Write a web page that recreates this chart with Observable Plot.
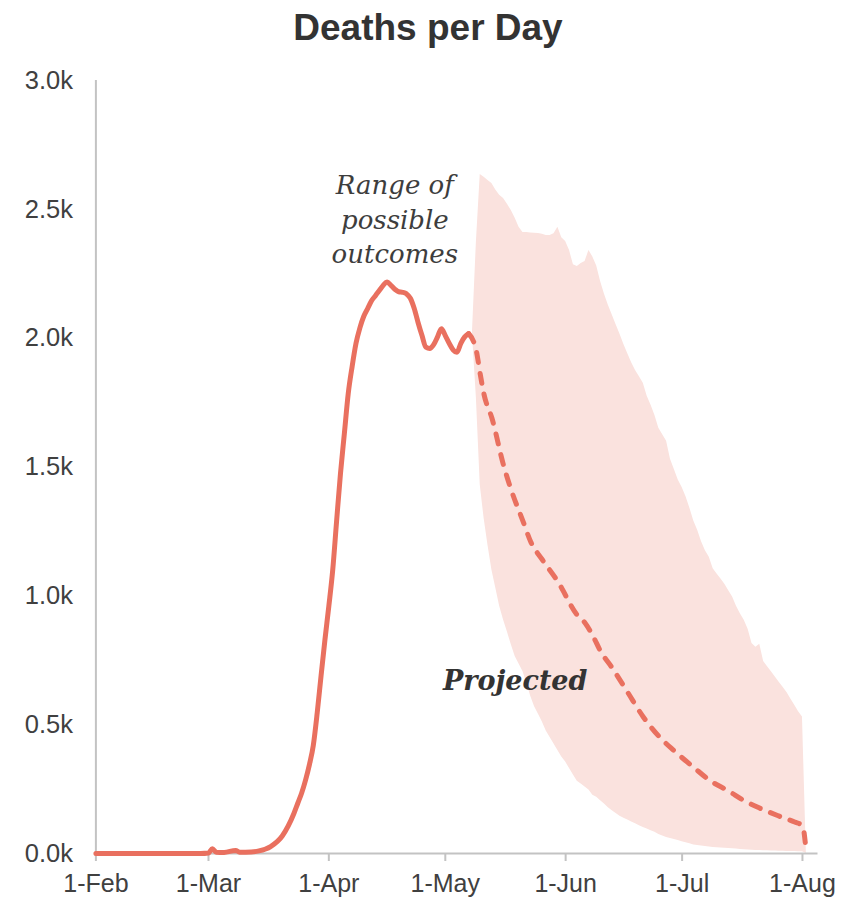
<!DOCTYPE html>
<html>
<head>
<meta charset="utf-8">
<script src="https://cdn.jsdelivr.net/npm/d3@7"></script>
<script src="https://cdn.jsdelivr.net/npm/@observablehq/plot@0.6"></script>
<style>
  html, body { margin: 0; padding: 0; background: #fff; }
  #title { width: 856px; height: 60px; line-height: 56px; text-align: center;
           font-family: "Liberation Sans", Arial, sans-serif; font-weight: bold;
           font-size: 37px; color: #333; }
</style>
</head>
<body>
<div id="title">Deaths per Day</div>
<div id="chart"></div>
<script>
// Reported deaths per day (solid)
const actualDates = ["2020-02-01","2020-02-15","2020-02-28","2020-03-01","2020-03-02","2020-03-03","2020-03-05","2020-03-08","2020-03-09","2020-03-12","2020-03-14","2020-03-17","2020-03-20","2020-03-23","2020-03-24","2020-03-25","2020-03-26","2020-03-27","2020-03-28","2020-03-29","2020-03-30","2020-03-31","2020-04-01","2020-04-02","2020-04-03","2020-04-04","2020-04-05","2020-04-06","2020-04-07","2020-04-08","2020-04-09","2020-04-10","2020-04-11","2020-04-12","2020-04-13","2020-04-14","2020-04-15","2020-04-16","2020-04-17","2020-04-18","2020-04-19","2020-04-20","2020-04-21","2020-04-22","2020-04-23","2020-04-24","2020-04-25","2020-04-26","2020-04-27","2020-04-28","2020-04-29","2020-04-30","2020-05-01","2020-05-02","2020-05-03","2020-05-04","2020-05-05","2020-05-06","2020-05-07"];
const actualValues = [0,0,0,2,18,5,4,12,5,6,10,27,68,155,195,235,285,345,420,545,690,830,960,1100,1290,1475,1630,1785,1890,1980,2040,2085,2115,2145,2165,2185,2205,2218,2205,2190,2180,2178,2172,2155,2115,2060,2010,1965,1960,1975,2005,2037,2010,1980,1955,1945,1980,2005,2018];

// Projected deaths per day (dashed)
const projDates = ["2020-05-07","2020-05-09","2020-05-10","2020-05-11","2020-05-13","2020-05-16","2020-05-18","2020-05-21","2020-05-23","2020-05-26","2020-05-30","2020-06-04","2020-06-06","2020-06-08","2020-06-10","2020-06-13","2020-06-17","2020-06-21","2020-06-25","2020-06-29","2020-07-04","2020-07-08","2020-07-13","2020-07-17","2020-07-21","2020-07-26","2020-07-30","2020-08-01","2020-08-02"];
const projValues = [2018,1950,1860,1780,1690,1507,1410,1290,1210,1140,1055,925,895,845,785,720,625,530,455,398,334,285,242,205,176,145,122,108,0];

// Range of possible outcomes (band)
const bandDates = ["2020-05-08","2020-05-09","2020-05-10","2020-05-11","2020-05-12","2020-05-13","2020-05-14","2020-05-15","2020-05-16","2020-05-17","2020-05-18","2020-05-19","2020-05-20","2020-05-21","2020-05-22","2020-05-23","2020-05-24","2020-05-25","2020-05-26","2020-05-27","2020-05-28","2020-05-29","2020-05-30","2020-05-31","2020-06-01","2020-06-02","2020-06-03","2020-06-04","2020-06-05","2020-06-06","2020-06-07","2020-06-08","2020-06-09","2020-06-10","2020-06-11","2020-06-12","2020-06-13","2020-06-14","2020-06-15","2020-06-16","2020-06-17","2020-06-18","2020-06-19","2020-06-20","2020-06-21","2020-06-22","2020-06-23","2020-06-24","2020-06-25","2020-06-26","2020-06-27","2020-06-28","2020-06-29","2020-06-30","2020-07-01","2020-07-02","2020-07-03","2020-07-04","2020-07-05","2020-07-06","2020-07-07","2020-07-08","2020-07-09","2020-07-10","2020-07-11","2020-07-12","2020-07-13","2020-07-14","2020-07-15","2020-07-16","2020-07-17","2020-07-18","2020-07-19","2020-07-20","2020-07-21","2020-07-22","2020-07-23","2020-07-24","2020-07-25","2020-07-26","2020-07-27","2020-07-28","2020-07-29","2020-07-30","2020-07-31","2020-08-01","2020-08-02"];
const bandLower = [2015,1770,1430,1300,1195,1100,1030,960,906,860,810,765,735,706,660,610,570,540,510,475,450,425,400,375,355,330,305,280,270,258,246,226,218,205,192,178,166,155,145,137,130,122,115,108,101,95,88,82,74,68,62,58,54,50,46,42,38,33,31,29,27,25,23,22,21,20,19,18,17,16,15,14,13,12,12,11,11,10,10,9,9,8,8,8,7,7,0];
const bandUpper = [2025,2370,2635,2625,2612,2600,2575,2555,2542,2520,2495,2465,2430,2410,2410,2408,2407,2406,2403,2398,2398,2405,2430,2390,2375,2340,2285,2278,2290,2298,2340,2315,2280,2220,2170,2128,2090,2052,2015,1975,1940,1905,1875,1850,1825,1775,1740,1700,1650,1625,1600,1530,1490,1450,1420,1385,1340,1290,1255,1210,1175,1150,1105,1085,1065,1045,1020,995,960,930,905,870,815,800,812,745,725,705,685,665,645,625,600,575,550,530,0];

const yTicks = [0, 500, 1000, 1500, 2000, 2500, 3000];
const xTickDates = ["2020-02-01","2020-03-01","2020-04-01","2020-05-01","2020-06-01","2020-07-01","2020-08-01"];

const rangeLabel = {text: "Range of\npossible\noutcomes", date: "2020-04-18", value: 2468};
const projLabel = {text: "Projected", date: "2020-05-19", value: 670};

const parse = d3.utcParse("%Y-%m-%d");
const actual = actualDates.map((d, i) => ({date: parse(d), value: actualValues[i]}));
const projected = projDates.map((d, i) => ({date: parse(d), value: projValues[i]}));
const band = bandDates.map((d, i) => ({date: parse(d), lo: bandLower[i], hi: bandUpper[i]}));
const xTicks = xTickDates.map(parse);
const monthFmt = d3.utcFormat("%b");

const LINE = "#e9705f";
const BAND = "#fae2de";
const AXIS = "#c3c3c3";
const TEXT = "#404040";

const chart = Plot.plot({
  width: 856,
  height: 840,
  marginTop: 20,
  marginLeft: 95.4,
  marginRight: 38.5,
  marginBottom: 47,
  style: {fontFamily: "'Liberation Sans', Arial, sans-serif", fontSize: "25px", color: TEXT, background: "#fff"},
  x: {type: "utc", domain: [parse("2020-02-01"), parse("2020-08-05")]},
  y: {domain: [0, 3000]},
  marks: [
    Plot.areaY(band, {x: "date", y1: "lo", y2: "hi", fill: BAND, curve: "linear"}),
    Plot.ruleY([0], {stroke: AXIS, strokeWidth: 2}),
    Plot.ruleX([parse("2020-02-01")], {y1: 0, y2: 3000, stroke: AXIS, strokeWidth: 2}),
    Plot.axisX({ticks: xTicks, tickFormat: d => "1-" + monthFmt(d), tickSize: 8, tickPadding: 13,
                stroke: AXIS, strokeWidth: 2, fill: TEXT, fontSize: 25, label: null}),
    Plot.axisY({ticks: yTicks, tickFormat: d => (d / 1000).toFixed(1) + "k", tickSize: 0, tickPadding: 23,
                fill: TEXT, fontSize: 25.5, label: null}),
    Plot.line(actual, {x: "date", y: "value", stroke: LINE, strokeWidth: 5, curve: "monotone-x", strokeLinecap: "round", strokeLinejoin: "round"}),
    Plot.line(projected, {x: "date", y: "value", stroke: LINE, strokeWidth: 5, curve: "monotone-x", strokeDasharray: "10,11", strokeLinecap: "round"}),
    Plot.text([rangeLabel], {x: d => parse(d.date), y: "value", text: "text", fontFamily: "'DejaVu Serif', Georgia, serif",
               fontStyle: "italic", fontSize: 26, lineHeight: 1.33, fill: "#3d3d3d", textAnchor: "middle"}),
    Plot.text([projLabel], {x: d => parse(d.date), y: "value", text: "text", fontFamily: "'DejaVu Serif', Georgia, serif",
               fontStyle: "italic", fontWeight: "bold", fontSize: 27, fill: "#333", textAnchor: "middle"})
  ]
});
document.getElementById("chart").appendChild(chart);
</script>
</body>
</html>
